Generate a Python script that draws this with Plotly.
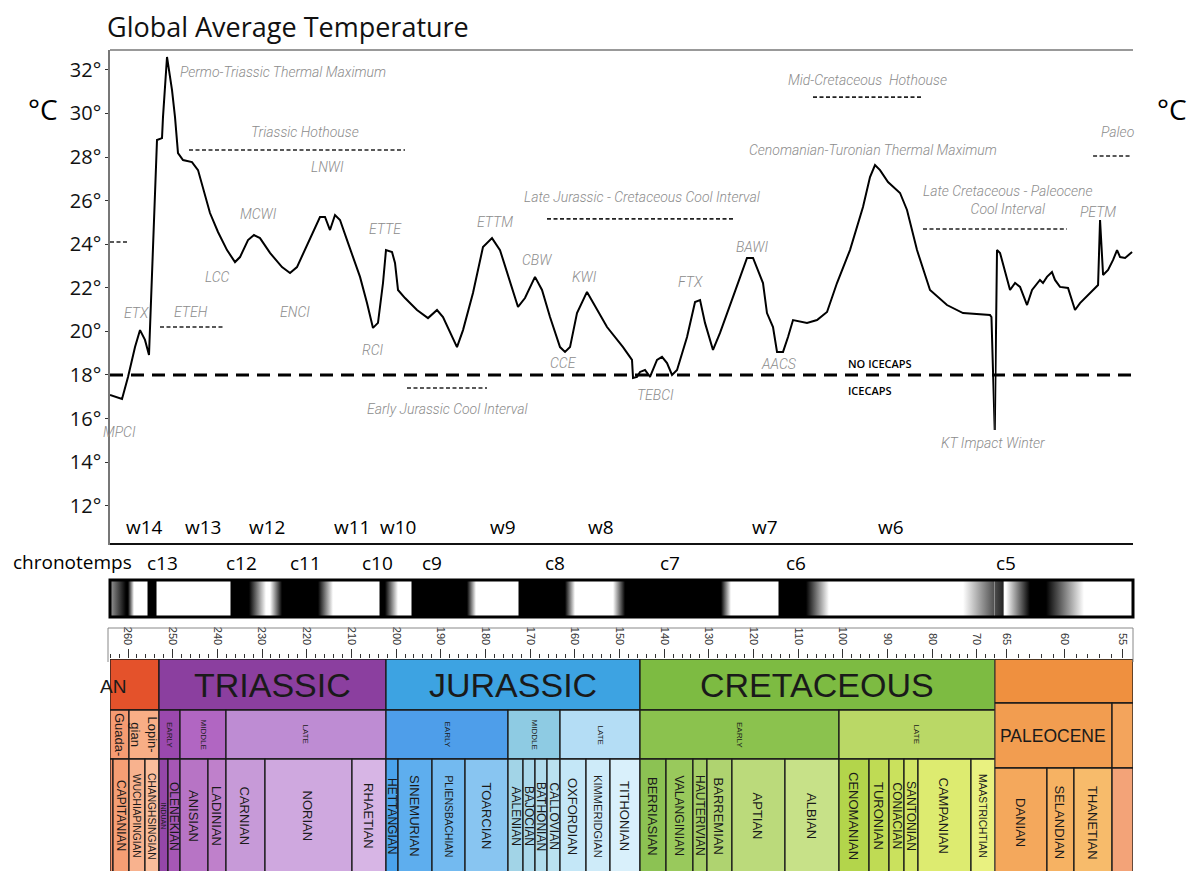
import plotly.graph_objects as go

# the page puts the figure 8px in from the top-left corner; keep it from overflowing
OFF = 8
W, H = 1195 - 2 * OFF, 879 - 2 * OFF

# pixel frame of the chart (reference picture coordinates)
X0, XK, X1 = 110, 994.8, 1133          # left edge, K-Pg break, right edge
MA_START, MA_KPG, MA_END = 264.03, 66.0, 54.13

# temperature curve, Ma / deg C  (part A: Permian..Cretaceous, part B: Paleogene)
TEMP_MA_A = [264.03, 261.34, 260.0, 258.43, 257.31, 256.20, 255.30, 253.51, 252.39, 252.17,
             251.27, 250.15, 249.48, 248.81, 247.69, 245.68, 244.33, 243.21, 241.65, 239.86,
             237.84, 236.05, 234.93, 233.14, 231.80, 230.46, 228.22, 225.53, 223.74, 222.18,
             219.94, 217.03, 215.91, 214.79, 213.67, 212.55, 210.76, 208.07, 206.51, 205.17,
             204.05, 202.93, 202.26, 200.91, 200.24, 199.57, 198.00, 195.32, 192.86, 190.84,
             189.50, 186.37, 185.02, 182.79, 180.55, 178.53, 176.74, 174.50, 172.71, 171.15,
             168.91, 167.34, 165.55, 163.31, 162.19, 161.07, 159.51, 157.27, 155.03, 152.79,
             149.21, 147.20, 146.97, 146.08, 145.41, 144.29, 143.17, 141.60, 140.48, 139.36,
             138.24, 137.12, 134.88, 133.09, 131.97, 130.86, 129.07, 127.50, 124.59, 121.46,
             120.11, 117.88, 116.99, 115.64, 114.74, 113.40, 112.28, 111.16, 108.03, 105.79,
             103.55, 101.32, 98.41, 95.50, 93.93, 92.81, 91.69, 89.90, 87.21, 85.65,
             83.41, 80.50, 76.70, 73.11, 67.07, 66.75, 66.02]
TEMP_A = [17.08, 16.90, 17.91, 19.28, 20.06, 19.61, 18.92, 28.78, 28.87, 29.83,
          32.59, 31.07, 29.83, 28.18, 27.86, 27.77, 27.40, 26.62, 25.43, 24.56,
          23.73, 23.18, 23.41, 24.19, 24.42, 24.28, 23.60, 22.95, 22.68, 22.95,
          23.96, 25.25, 25.25, 24.65, 25.34, 25.11, 24.06, 22.50, 21.30, 20.16,
          20.39, 22.22, 23.73, 23.64, 23.14, 21.90, 21.53, 20.98, 20.61, 20.98,
          20.66, 19.28, 20.06, 21.76, 23.87, 24.28, 23.73, 22.22, 21.12, 21.53,
          22.50, 21.90, 20.66, 19.28, 19.06, 19.28, 20.84, 21.81, 20.98, 20.20,
          19.28, 18.69, 17.86, 17.91, 18.14, 18.23, 17.91, 18.69, 18.83, 18.55,
          18.00, 18.23, 19.74, 21.35, 21.44, 20.39, 19.15, 19.93, 21.58, 23.37,
          23.37, 22.22, 20.84, 20.20, 19.06, 19.06, 19.74, 20.52, 20.39, 20.52,
          20.89, 22.22, 23.73, 25.71, 27.08, 27.63, 27.40, 26.85, 26.35, 25.57,
          23.73, 21.90, 21.21, 20.84, 20.75, 20.66, 15.48]
TEMP_MA_B = [66.0, 65.81, 65.55, 64.69, 64.26, 63.83, 63.23, 62.80, 62.12, 61.86,
             61.52, 61.09, 60.83, 60.40, 59.71, 59.11, 58.68, 57.82, 57.13, 56.96,
             56.70, 56.27, 55.84, 55.50, 55.24, 54.81, 54.21]
TEMP_B = [15.48, 23.73, 23.60, 21.90, 22.22, 22.04, 21.21, 21.90, 22.36, 22.22,
          22.50, 22.72, 22.36, 22.04, 21.99, 20.98, 21.30, 21.76, 22.13, 25.11,
          22.59, 22.82, 23.28, 23.73, 23.41, 23.37, 23.64]

ICECAP_T = 18
TEMP_TICKS = [12, 14, 16, 18, 20, 22, 24, 26, 28, 30, 32]

# climate intervals (dashed bars)
INTERVAL_OLD = [264.03, 252.84, 246.35, 197.56, 166.22, 106.69, 82.07, 57.56]
INTERVAL_YOUNG = [260.0, 238.29, 198.00, 179.65, 124.14, 82.29, 59.80, 54.21]
INTERVAL_T = [24.10, 20.20, 28.32, 17.40, 25.16, 30.75, 24.70, 28.05]

LABEL_TEXT = ['Permo-Triassic Thermal Maximum', 'Triassic Hothouse', 'ETX', 'ETEH', 'MPCI',
              'LCC', 'MCWI', 'ENCI', 'LNWI', 'ETTE', 'RCI', 'ETTM', 'CBW', 'KWI', 'CCE',
              'Early Jurassic Cool Interval', 'Late Jurassic - Cretaceous Cool Interval',
              'FTX', 'TEBCI', 'BAWI', 'AACS', 'Mid-Cretaceous  Hothouse',
              'Cenomanian-Turonian Thermal Maximum', 'Late Cretaceous - Paleocene<br>Cool Interval',
              'PETM', 'KT Impact Winter']
LABEL_MA = [225.31, 220.38, 258.21, 245.90, 262.01, 239.86, 230.90, 222.62, 215.46, 202.26,
            205.39, 177.86, 168.46, 157.94, 162.64, 188.38, 144.96, 134.21, 141.83, 120.34,
            114.30, 94.60, 93.26, 64.87, 57.13, 66.40]
LABEL_T = [31.90, 29.15, 20.84, 20.89, 15.39, 22.50, 25.39, 20.89, 27.54, 24.70,
           19.15, 25.02, 23.28, 22.50, 18.55, 16.44, 26.17, 22.27, 17.08, 23.87,
           18.50, 31.53, 28.32, 26.03, 25.48, 14.88]

W_LABELS = ['w14', 'w13', 'w12', 'w11', 'w10', 'w9', 'w8', 'w7', 'w6']
W_MA = [256.20, 243.21, 228.89, 209.87, 199.57, 176.07, 154.14, 117.43, 89.23]
W_T = 11.03

C_LABELS = ['c13', 'c12', 'c11', 'c10', 'c9', 'c8', 'c7', 'c6', 'c5']
C_MA = [252.39, 234.49, 220.38, 204.05, 191.96, 164.43, 138.69, 110.49, 65.04]

# chronotemp bar: grey level (0 black .. 1 white) at ages
GRAD_MA = [264.03, 260.45, 260.0, 258.66, 255.75, 255.52, 253.73, 253.51, 237.17, 236.95,
           232.92, 229.11, 228.22, 225.53, 217.48, 214.12, 203.82, 203.60, 202.48, 199.57,
           196.66, 196.44, 184.13, 182.11, 172.71, 172.49, 162.19, 159.95, 151.45, 148.76,
           127.28, 125.05, 114.52, 114.30, 108.26, 103.11, 73.11, 66.0,
           65.30, 65.17, 65.04, 62.98, 61.60, 58.34, 54.13]
GRAD_LEVEL = [0.6, 0.0, 0.0, 1.0, 1.0, 0.0, 0.0, 1.0, 1.0, 0.0,
              0.0, 1.0, 1.0, 0.0, 0.0, 1.0, 1.0, 0.0, 0.0, 1.0,
              1.0, 0.0, 0.0, 1.0, 1.0, 0.0, 0.0, 1.0, 1.0, 0.0,
              0.0, 1.0, 1.0, 0.0, 0.0, 1.0, 1.0, 0.3,
              0.15, 1.0, 1.0, 0.0, 0.0, 1.0, 1.0]

# geologic time scale
PERIOD_NAMES = ['', 'TRIASSIC', 'JURASSIC', 'CRETACEOUS', '']
PERIOD_BOUNDS = [264.03, 253.06, 202.26, 145.41, 66.0, 54.13]
PERIOD_COLORS = ['#E4522B', '#8B3F9F', '#3DA3E2', '#7DBB42', '#EF903F']

EPOCH_NAMES = ['Guada-', 'Lopin-<br>gian', 'EARLY', 'MIDDLE', 'LATE', 'EARLY', 'MIDDLE', 'LATE',
               'EARLY', 'LATE', 'PALEOCENE', '']
EPOCH_BOUNDS = [264.03, 259.78, 253.06, 248.36, 238.07, 202.26, 174.95, 163.31, 145.41,
                100.87, 66.0, 55.93, 54.13]
EPOCH_COLORS = ['#F59B72', '#F8AE86', '#9A48AD', '#B166C2', '#BE8CD3', '#4E9EEA', '#8ECBE3',
                '#B4DDF5', '#8BC24E', '#BAD866', '#F29D50', '#F3A45C']

STAGE_NAMES = ['', 'CAPITANIAN', 'WUCHIAPINGIAN', 'CHANGHSINGIAN', 'INDUAN', 'OLENEKIAN',
               'ANISIAN', 'LADINIAN', 'CARNIAN', 'NORIAN', 'RHAETIAN', 'HETTANGIAN',
               'SINEMURIAN', 'PLIENSBACHIAN', 'TOARCIAN', 'AALENIAN', 'BAJOCIAN', 'BATHONIAN',
               'CALLOVIAN', 'OXFORDIAN', 'KIMMERIDGIAN', 'TITHONIAN', 'BERRIASIAN',
               'VALANGINIAN', 'HAUTERIVIAN', 'BARREMIAN', 'APTIAN', 'ALBIAN', 'CENOMANIAN',
               'TURONIAN', 'CONIACIAN', 'SANTONIAN', 'CAMPANIAN', 'MAASTRICHTIAN', 'DANIAN',
               'SELANDIAN', 'THANETIAN', '']
STAGE_BOUNDS = [264.03, 263.36, 259.78, 256.20, 253.06, 251.05, 248.36, 242.10, 238.07,
                229.34, 209.87, 202.26, 199.57, 191.96, 184.57, 174.95, 171.59, 168.91,
                166.22, 163.31, 157.49, 152.12, 145.41, 139.59, 133.56, 130.42, 124.83,
                112.96, 100.87, 94.15, 89.68, 86.32, 83.19, 71.33, 66.0, 61.52, 59.20,
                55.93, 54.13]
STAGE_COLORS = ['#F28F68', '#F59E74', '#F8B28E', '#FABE9C',
                '#9447A8', '#A657B6', '#B774C5', '#BF80CB', '#C79AD8', '#CFA8DF', '#D7B5E5',
                '#4AA3EC', '#5EAEEE', '#73BAF0', '#88C5F1', '#A2D4E7', '#A9D8EA', '#B1DCEC',
                '#BAE1EF', '#C4E7F7', '#CEEBF9', '#D9F0FB',
                '#8CC253', '#99C95C', '#A4CE66', '#AFD370', '#BBDA7B', '#C7E188', '#B3D54B',
                '#BFDB54', '#CAE15D', '#D3E666', '#DDEB70', '#E9F180',
                '#F4A85C', '#F6B263', '#F7BB6B', '#F3A378']

# row heights (y3 units = px above the reference bottom)
ROWS_MAIN = {'period': (169, 220), 'epoch': (120, 169), 'stage': (0, 120)}
ROWS_PALEO = {'period': (176, 220), 'epoch': (111, 176), 'stage': (0, 111)}


def pxx(x):
    return (x - OFF) / W


def pxy(y):
    return 1 - (y - OFF) / H


def xref_for(ma):
    return 'x' if ma >= MA_KPG else 'x2'


GREY = '#8c8c8c'
label_font = dict(family='Roboto', size=14, color=GREY, style='italic', weight=300)

fig = go.Figure()

# temperature curve
fig.add_trace(go.Scatter(x=TEMP_MA_A, y=TEMP_A, mode='lines', xaxis='x', yaxis='y',
                         line=dict(color='black', width=2), hoverinfo='skip'))
fig.add_trace(go.Scatter(x=TEMP_MA_B, y=TEMP_B, mode='lines', xaxis='x2', yaxis='y',
                         line=dict(color='black', width=2), hoverinfo='skip'))

# dashed interval bars, split at the K-Pg scale break
for old, young, t in zip(INTERVAL_OLD, INTERVAL_YOUNG, INTERVAL_T):
    if old > MA_KPG and young < MA_KPG:
        pieces = [(old, MA_KPG, 'x'), (MA_KPG, young, 'x2')]
    else:
        pieces = [(old, young, xref_for(young))]
    for a, b, ax in pieces:
        fig.add_trace(go.Scatter(x=[a, b], y=[t, t], mode='lines', xaxis=ax, yaxis='y',
                                 line=dict(color='#222', width=1.6, dash='4px,2.5px'),
                                 hoverinfo='skip'))

# chronotemp gradient bar (gradient runs left -> right = old -> young)
for ax, sel in (('x', lambda m: m >= MA_KPG), ('x2', lambda m: m <= MA_KPG)):
    pts = sorted([(m, g) for m, g in zip(GRAD_MA, GRAD_LEVEL) if sel(m)], reverse=True)
    hi, lo = pts[0][0], pts[-1][0]
    cs = []
    for m, g in pts:
        v = int(round(255 * g))
        cs.append([(hi - m) / (hi - lo), f'rgb({v},{v},{v})'])
    fig.add_trace(go.Scatter(x=[hi, lo, lo, hi, hi], y=[0, 0, 1, 1, 0], mode='lines',
                             xaxis=ax, yaxis='y4', fill='toself', line=dict(width=0),
                             fillgradient=dict(type='horizontal', colorscale=cs),
                             hoverinfo='skip'))

shapes = []
annotations = []

# 18 deg ice cap threshold
shapes.append(dict(type='line', xref='paper', yref='y', x0=pxx(X0), x1=pxx(X1),
                   y0=ICECAP_T, y1=ICECAP_T, line=dict(color='black', width=3, dash='13px,8px')))

# main plot frame
shapes.append(dict(type='line', xref='paper', yref='paper', x0=pxx(X0), x1=pxx(X1),
                   y0=pxy(50), y1=pxy(50), line=dict(color='#777', width=1.5)))
shapes.append(dict(type='line', xref='paper', yref='paper', x0=pxx(X0), x1=pxx(X1),
                   y0=pxy(544), y1=pxy(544), line=dict(color='#111', width=2)))

# chronotemp bar frame
shapes.append(dict(type='rect', xref='paper', yref='paper', x0=pxx(X0), x1=pxx(X1),
                   y0=pxy(617), y1=pxy(580), line=dict(color='black', width=3)))

# time scale frame
shapes.append(dict(type='path', xref='paper', yref='paper',
                   path=f'M {pxx(108)} {pxy(662)} L {pxx(108)} {pxy(628)} L {pxx(X1)} {pxy(628)} L {pxx(X1)} {pxy(662)}',
                   line=dict(color='#888', width=1)))


def add_cells(names, bounds, colors, level, font_size, label_y=None, angle=0, stage=False):
    for i, name in enumerate(names):
        old, young = bounds[i], bounds[i + 1]
        paleo = old <= MA_KPG
        rows = ROWS_PALEO if paleo else ROWS_MAIN
        y0, y1 = rows[level]
        ax = 'x4' if paleo else 'x3'
        shapes.append(dict(type='rect', xref=ax, yref='y3', x0=old, x1=young, y0=y0, y1=y1,
                           fillcolor=colors[i], line=dict(color='#1a1a1a', width=1.3),
                           layer='below'))
        if not name:
            continue
        size = font_size
        if stage:
            wpx = (old - young) * (11.64 if paleo else 4.468)
            size = 7 if wpx < 10 else (12 if wpx < 16 else 13)
            # keep long names inside the visible part of the row
            size = min(size, 92 / (0.69 * len(name)))
        yy = label_y if label_y is not None else (y0 + y1) / 2
        if stage and paleo:
            yy = 56
        ang = 0 if (level == 'epoch' and paleo) else angle
        annotations.append(dict(x=(old + young) / 2, y=yy, xref=ax, yref='y3', text=name,
                                showarrow=False, textangle=ang, xanchor='center',
                                font=dict(family='Liberation Sans', size=size, color='#1a1a1a')))


add_cells(PERIOD_NAMES, PERIOD_BOUNDS, PERIOD_COLORS, 'period', 34)
add_cells(EPOCH_NAMES, EPOCH_BOUNDS, EPOCH_COLORS, 'epoch', 8, angle=90)
add_cells(STAGE_NAMES, STAGE_BOUNDS, STAGE_COLORS, 'stage', 13, label_y=63, angle=90, stage=True)

# larger epoch captions
for a in annotations:
    if a['text'] in ('Guada-', 'Lopin-<br>gian'):
        a['font']['size'] = 13
    if a['text'] == 'PALEOCENE':
        a['font']['size'] = 17.5

# clipped Permian caption
annotations.append(dict(x=259.9, y=193, xref='x3', yref='y3', text='AN', xanchor='right',
                        showarrow=False, font=dict(family='Liberation Sans', size=19, color='#1a1a1a')))

# event / interval labels
for txt, ma, t in zip(LABEL_TEXT, LABEL_MA, LABEL_T):
    annotations.append(dict(x=ma, y=t, xref=xref_for(ma), yref='y', text=txt, showarrow=False,
                            xanchor='center', font=label_font))
annotations.append(dict(x=57.04, y=29.15, xref='x2', yref='y', text='Paleo', xanchor='left',
                        showarrow=False, font=label_font))
annotations.append(dict(x=91.69, y=18.55, xref='x', yref='y', text='NO ICECAPS', showarrow=False,
                        xanchor='center', font=dict(family='Open Sans', size=11, color='black', weight=600)))
annotations.append(dict(x=93.93, y=17.27, xref='x', yref='y', text='ICECAPS', showarrow=False,
                        xanchor='center', font=dict(family='Open Sans', size=11, color='black', weight=600)))

for txt, ma in zip(W_LABELS, W_MA):
    annotations.append(dict(x=ma, y=W_T, xref='x', yref='y', text=txt, showarrow=False,
                            xanchor='center', font=dict(family='Open Sans', size=19, color='black')))
for txt, ma in zip(C_LABELS, C_MA):
    annotations.append(dict(x=ma, y=pxy(563), xref=xref_for(ma), yref='paper', text=txt,
                            xanchor='center', showarrow=False,
                            font=dict(family='Open Sans', size=19, color='black')))
annotations.append(dict(x=pxx(72), y=pxy(562), xref='paper', yref='paper', text='chronotemps',
                        xanchor='center', showarrow=False,
                        font=dict(family='Open Sans', size=19, color='black')))
for xx in (43, 1172):
    annotations.append(dict(x=pxx(xx), y=pxy(88), xref='paper', yref='paper', text='°C',
                            xanchor='center', showarrow=False,
                            font=dict(family='Open Sans', size=28, color='black')))

tick_text = [f'{t}°' for t in TEMP_TICKS]
yfont = dict(family='Open Sans', size=20, color='#111')

fig.update_layout(
    width=W, height=H, margin=dict(l=0, r=0, t=0, b=0),
    paper_bgcolor='white', plot_bgcolor='rgba(0,0,0,0)', showlegend=False,
    title=dict(text='Global Average Temperature', x=pxx(107), xanchor='left', y=pxy(28),
               yanchor='middle', font=dict(family='Open Sans', size=27, color='#111')),
    xaxis=dict(domain=[pxx(X0), pxx(XK)], range=[MA_START, MA_KPG], visible=False, anchor='y'),
    xaxis2=dict(domain=[pxx(XK), pxx(X1)], range=[MA_KPG, MA_END], visible=False, anchor='y'),
    yaxis=dict(domain=[pxy(545), pxy(50)], range=[10.2, 32.91], tickvals=TEMP_TICKS,
               ticktext=tick_text, ticks='outside', ticklen=3, tickcolor='#333',
               showline=True, linecolor='#777', linewidth=1.5, showgrid=False,
               zeroline=False, tickfont=yfont, anchor='x', automargin=False),
    yaxis2=dict(overlaying='y', side='right', anchor='free', position=pxx(X1),
                range=[10.2, 32.91], tickvals=TEMP_TICKS, ticktext=tick_text, ticks='',
                showline=True, linecolor='black', linewidth=2.5, showgrid=False,
                zeroline=False, tickfont=yfont, automargin=False),
    xaxis3=dict(domain=[pxx(X0), pxx(XK)], range=[MA_START, MA_KPG], anchor='y3', side='top',
                tick0=0, dtick=10, ticks='outside', ticklen=9, tickcolor='#333', tickwidth=1,
                tickangle=90, tickfont=dict(family='Liberation Sans', size=11, color='#333'),
                minor=dict(tick0=0, dtick=2, ticks='outside', ticklen=4, tickcolor='#333'),
                showgrid=False, zeroline=False, showline=False, automargin=False),
    xaxis4=dict(domain=[pxx(XK), pxx(X1)], range=[MA_KPG, MA_END], anchor='y3', side='top',
                tick0=0, dtick=5, ticks='outside', ticklen=9, tickcolor='#333', tickwidth=1,
                tickangle=90, tickfont=dict(family='Liberation Sans', size=11, color='#333'),
                minor=dict(tick0=0, dtick=1, ticks='outside', ticklen=4, tickcolor='#333'),
                showgrid=False, zeroline=False, showline=False, automargin=False),
    yaxis3=dict(domain=[0, pxy(659)], range=[OFF, 220], visible=False, anchor='x3'),
    yaxis4=dict(domain=[pxy(617), pxy(580)], range=[0, 1], visible=False, anchor='x'),
    shapes=shapes, annotations=annotations,
)

fig.write_html('out.html')
